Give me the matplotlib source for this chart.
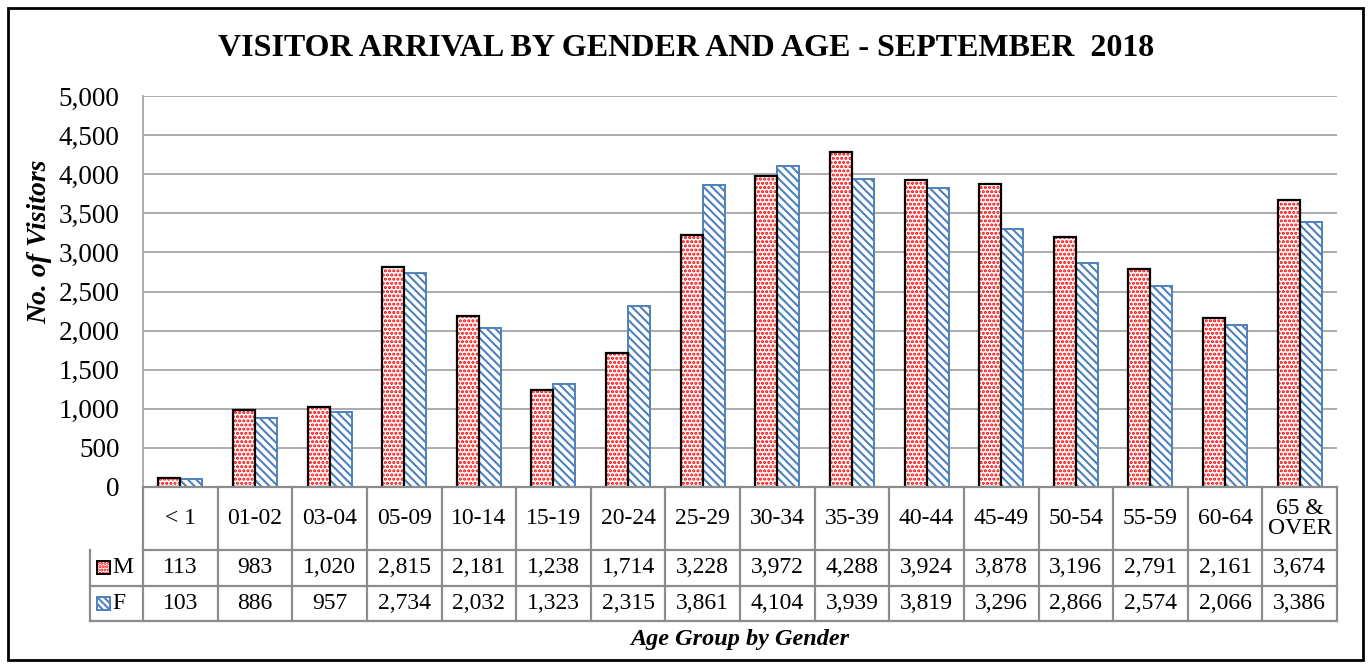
import numpy as np
import matplotlib.pyplot as plt
from matplotlib.patches import Rectangle

plt.rcParams['font.family'] = ['Liberation Serif', 'DejaVu Serif']
plt.rcParams['hatch.linewidth'] = 1.5

# données
age_groups = ['< 1', '01-02', '03-04', '05-09', '10-14', '15-19', '20-24', '25-29',
              '30-34', '35-39', '40-44', '45-49', '50-54', '55-59', '60-64', '65 &\nOVER']
male = [113, 983, 1020, 2815, 2181, 1238, 1714, 3228, 3972, 4288, 3924, 3878, 3196, 2791, 2161, 3674]
female = [103, 886, 957, 2734, 2032, 1323, 2315, 3861, 4104, 3939, 3819, 3296, 2866, 2574, 2066, 3386]
series_labels = ['M', 'F']
y_ticks = [0, 500, 1000, 1500, 2000, 2500, 3000, 3500, 4000, 4500, 5000]

red = '#FF0000'
blue = '#4F81BD'
grid_col = '#A6A6A6'
tab_col = '#8C8C8C'

fig = plt.figure(figsize=(13.7, 6.68), dpi=100)
W, H = 1370, 668
ax = fig.add_axes([143 / W, 1 - 487 / H, 1194 / W, 391 / H])

x = np.arange(len(age_groups))
bw = 0.295

# barres M : points rouges + contour noir
ax.bar(x - bw / 2, male, bw, color='white', edgecolor=red, hatch='....', linewidth=0, zorder=3)
ax.bar(x - bw / 2, male, bw, fill=False, edgecolor='black', linewidth=1.6, zorder=4)
# barres F : hachures bleues
ax.bar(x + bw / 2, female, bw, color='white', edgecolor=blue, hatch='\\\\\\\\', linewidth=1.4, zorder=3)

ax.set_xlim(-0.5, len(age_groups) - 0.5)
ax.set_ylim(0, 5000)
ax.set_yticks(y_ticks)
ax.set_yticklabels([f'{v:,}' for v in y_ticks], fontsize=19.5)
ax.tick_params(axis='y', length=0, pad=17)
ax.set_xticks([])
ax.grid(axis='y', color=grid_col, linewidth=1.3, zorder=0)
for s in ['top', 'right', 'bottom']:
    ax.spines[s].set_visible(False)
ax.spines['left'].set_color(grid_col)
ax.spines['left'].set_linewidth(1.3)

fig.text(40 / W, 1 - 242 / H, 'No. of Visitors', rotation=90, ha='center', va='center',
         fontsize=20, fontweight='bold', fontstyle='italic')

# tableau sous le graphique
tr = ax.get_xaxis_transform()
y_head = -0.1611
y_m = -0.2532
y_f = -0.3427
x_left = -1.21
xr = len(age_groups) - 0.5
kw = dict(transform=tr, clip_on=False, color=tab_col, linewidth=1.6, zorder=5)

for yy in [0, y_head]:
    ax.plot([-0.5, xr], [yy, yy], **kw)
for yy in [y_m, y_f]:
    ax.plot([x_left, xr], [yy, yy], **kw)
ax.plot([x_left, x_left], [y_head, y_f], **kw)
for i in range(len(age_groups) + 1):
    ax.plot([i - 0.5, i - 0.5], [0, y_f], **kw)

for i, lab in enumerate(age_groups):
    ax.text(i, y_head / 2, lab, transform=tr, ha='center', va='center', fontsize=17,
            linespacing=0.95)
    ax.text(i, (y_head + y_m) / 2, f'{male[i]:,}', transform=tr, ha='center', va='center', fontsize=17)
    ax.text(i, (y_m + y_f) / 2, f'{female[i]:,}', transform=tr, ha='center', va='center', fontsize=17)

# légende dans le tableau
sw_w = 13 / 74.625
sw_h = 13 / 391
for yy0, yy1, lab, col, edge, hatch in [(y_head, y_m, series_labels[0], red, 'black', '.....'),
                                       (y_m, y_f, series_labels[1], blue, blue, '\\\\\\\\\\')]:
    yc = (yy0 + yy1) / 2
    ax.add_patch(Rectangle((x_left + 7 / 74.625, yc - sw_h / 2), sw_w, sw_h, transform=tr,
                           facecolor='white', edgecolor=col, hatch=hatch, linewidth=0,
                           clip_on=False, zorder=5))
    ax.add_patch(Rectangle((x_left + 7 / 74.625, yc - sw_h / 2), sw_w, sw_h, transform=tr,
                           fill=False, edgecolor=edge, linewidth=1.4, clip_on=False, zorder=6))
    ax.text(x_left + 22 / 74.625, yc, lab, transform=tr, ha='left', va='center', fontsize=17)

fig.text(740 / W, 1 - 640 / H, 'Age Group by Gender', ha='center', va='center',
         fontsize=17.5, fontweight='bold', fontstyle='italic')
fig.text(686 / W, 1 - 48 / H, 'VISITOR ARRIVAL BY GENDER AND AGE - SEPTEMBER  2018',
         ha='center', va='center', fontsize=23, fontweight='bold')

# cadre extérieur
fig.patches.append(Rectangle((8 / W, 8 / H), 1355 / W, 652 / H, transform=fig.transFigure,
                             fill=False, edgecolor='black', linewidth=2))

fig.savefig('out.png', dpi=100)
